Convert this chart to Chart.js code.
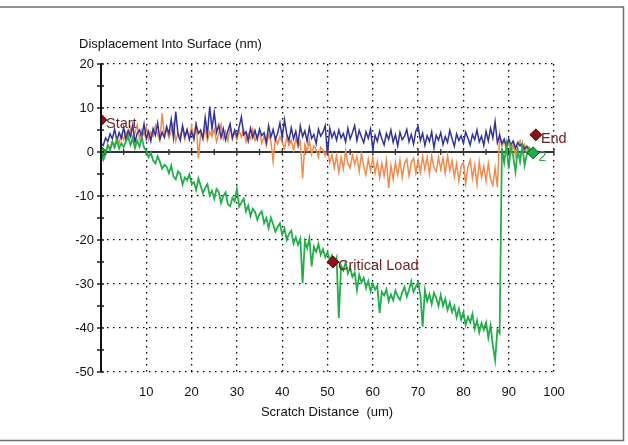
<!DOCTYPE html>
<html>
<head>
<meta charset="utf-8">
<script src="https://cdn.jsdelivr.net/npm/chart.js@4.4.1/dist/chart.umd.min.js"></script>
<style>
  html, body { margin: 0; padding: 0; background: #fff; }
  #chart { display: block; }
</style>
</head>
<body>
<canvas id="chart" width="628" height="445"></canvas>
<script>
// sample spacing of the scratch traces (um)
const STEP = 0.5;

// Displacement Into Surface (nm), one value every STEP um from 0 to 95
const blueTrace = [
  2.0, 1.5, 3.2, 2.4, 4.1, 3.0, 5.2, 2.6, 4.4, 3.1,
  5.6, 2.8, 4.9, 3.5, 6.1, 2.2, 4.3, 5.0, 3.4, 6.4,
  3.0, 4.7, 2.5, 5.3, 3.8, 6.6, 2.9, 4.5, 3.3, 5.8,
  4.1, 7.4, 3.2, 9.2, 4.0, 2.6, 6.0, 3.5, 5.1, 2.8,
  4.6, 3.0, 6.2, 4.2, 5.0, 3.1, 7.8, 4.0, 10.3, 5.2,
  9.0, 4.4, 6.1, 3.3, 5.3, 2.7, 4.8, 6.4, 3.1, 5.0,
  3.6, 5.7, 8.0, 3.9, 4.6, 2.5, 5.4, 3.3, 4.9, 2.9,
  5.2, 3.7, 4.4, 2.2, 6.0, 3.4, 5.1, 2.8, 4.3, 6.6,
  3.2, 7.3, 4.1, 2.6, 5.5, 3.0, 4.7, 1.8, 5.9, 3.5,
  4.8, 2.4, 5.6, 3.1, 4.0, 1.9, 5.2, 3.6, 4.5, 6.0,
  -0.7, 5.4, 3.3, 4.6, 2.7, 5.0, 3.2, 4.2, 2.3, 5.4,
  3.0, 4.4, 6.0, 2.6, 4.9, 3.4, 2.1, 4.6, 3.1, 5.2,
  0.5, 3.8, 2.4, 4.7, 3.0, 1.6, 4.2, 2.9, 5.0, 2.2,
  3.9, 1.4, 4.5, 2.8, 3.6, 5.1, 2.3, 4.0, 1.8, 4.8,
  5.8, 2.6, 4.3, 1.5, 3.7, 2.4, 4.6, 0.9, 3.8, 2.7,
  4.4, 1.7, 3.5, 2.2, 4.9, 3.0, 1.3, 4.1, 2.6, 3.7,
  2.0, 4.5, 3.1, 1.6, 4.0, 2.8, 5.0, 2.3, 3.6, 1.5,
  4.7, 2.5, 5.4, 3.2, 6.9, 2.1, 3.8, 1.9, 2.9, 1.2,
  3.0, 1.6, 2.5, 0.8, 2.2, 1.4, 1.9, 0.6, 1.3, 0.3, 0.0
];

const orangeTrace = [
  0.0, 0.5, -0.3, 1.6, 0.8, 2.4, 1.5, 3.2, 2.0, 4.0,
  2.8, 4.6, 3.3, 5.5, 2.6, 4.4, 6.2, 3.0, 5.0, 3.8,
  5.7, 2.9, 4.5, 3.6, 6.0, 4.1, 2.7, 8.8, 3.9, 5.1,
  3.2, 4.8, 6.4, 2.5, 4.3, 3.6, 5.5, 2.8, 4.9, 3.4,
  5.8, 2.9, 7.0, -1.4, 4.2, 3.1, 5.3, 2.6, 4.6, 3.5,
  5.1, 2.4, 4.2, 6.3, 3.0, 4.7, 2.5, 5.6, 3.3, 4.4,
  2.7, 4.9, 3.4, 5.0, 2.3, 4.1, 3.0, 5.2, 2.6, 3.8,
  4.5, 2.0, 3.6, 1.4, 3.9, 2.5, -2.2, 3.1, 1.8, 3.5,
  2.2, 0.8, 3.3, 1.5, 2.7, 0.4, 3.0, 1.2, 2.4, -6.0,
  1.7, 0.2, 2.6, -0.5, 1.4, 0.6, -1.2, 1.1, 0.5, -0.8,
  0.9, -2.4, -0.6, -3.6, -0.8, -4.6, -1.2, -3.8, 0.2, -2.6,
  -3.6, -0.6, -2.8, -1.0, -4.4, -0.4, -3.4, -5.2, -1.6, -4.2,
  -1.2, -4.8, -2.2, -5.8, -2.6, -5.4, -1.8, -8.2, -3.0, -6.2,
  -2.4, -5.2, -1.8, -5.8, -2.6, -1.6, -5.4, -2.4, -1.4, -4.8,
  -1.8, -4.6, -1.0, -4.0, -1.2, -5.0, -0.8, -3.6, -4.4, -1.2,
  -4.0, -1.4, -4.8, -0.8, -4.2, -2.0, -5.6, -2.6, -6.6, -3.2,
  -2.4, -7.2, -3.4, -1.8, -6.0, -3.0, -7.4, -2.2, -5.8, -3.2,
  -6.6, -2.6, -6.2, -7.6, -3.6, -8.0, 4.0, 1.2, 2.8, 0.5,
  2.2, 0.0, 1.8, -0.9, 1.5, 2.6, 0.3, 1.7, -0.5, 1.0, 0.4
];

const greenTrace = [
  0.0, -1.8, -0.5, 1.6, 0.4, 2.3, 1.0, 2.7, 0.8, 2.0,
  1.1, 2.4, 3.5, 1.6, 3.1, 0.9, 2.6, 1.2, 3.3, 1.0,
  0.3, -1.2, -0.2, -1.9, -2.6, -1.0, -2.2, -3.8, -2.9, -3.4,
  -4.8, -3.1, -5.6, -6.2, -4.4, -5.0, -7.4, -5.8, -6.4, -5.1,
  -7.2, -6.8, -8.6, -6.0, -7.7, -9.4, -8.1, -7.3, -9.9, -8.8,
  -10.6, -8.4, -9.1, -11.6, -10.0, -9.2, -11.9, -12.3, -10.4, -11.2,
  -8.4, -12.4, -11.5, -10.6, -13.5, -12.2, -14.6, -12.9, -13.6, -15.4,
  -14.1, -13.5, -16.2, -15.0, -17.3, -14.9, -16.4, -18.1, -17.0, -16.2,
  -18.8, -17.4, -19.9, -18.6, -17.9, -20.8, -19.4, -21.1, -19.7, -29.8,
  -20.3, -21.9, -19.6, -26.0, -21.5, -22.7, -20.9, -23.4, -22.1, -23.9,
  -22.8, -24.6, -23.5, -25.4, -24.0, -37.7, -25.8, -26.9, -25.1, -27.6,
  -26.3, -28.4, -27.4, -31.4, -27.9, -29.6, -28.6, -30.9, -29.3, -31.7,
  -29.9, -31.3, -30.4, -36.6, -31.8, -32.6, -31.2, -33.9, -32.4, -33.7,
  -31.5, -32.8, -33.6, -31.9, -30.7, -32.9, -31.3, -29.4, -31.8, -30.6,
  -29.7, -32.5, -39.7, -31.4, -33.9, -32.3, -34.6, -32.0, -33.2, -35.0,
  -32.5, -34.9, -33.4, -35.9, -34.2, -36.4, -35.0, -37.6, -35.6, -38.1,
  -36.4, -39.3, -37.5, -38.7, -36.8, -40.2, -38.3, -41.0, -38.9, -40.4,
  -38.7, -42.2, -39.4, -44.0, -47.3, -40.4, -41.2, 0.8, -2.4, 1.6,
  -3.8, 1.2, -1.0, -4.5, 0.6, -2.2, 1.4, -3.0, -0.5, 0.9, 0.0
];

// event markers (red diamonds) and segment markers (green diamonds)
const eventX = [0, 51.2, 96];
const eventY = [7.3, -25, 3.9];
const eventLabels = ['Start', 'Critical Load', 'End'];
const segX = [0, 95.4];
const segY = [0, -0.2];
const segLabels = ['', '2'];

// axis ticks
const xTicks = [10, 20, 30, 40, 50, 60, 70, 80, 90, 100];
const yTicks = [20, 10, 0, -10, -20, -30, -40, -50];

const FONT = 'Liberation Sans, Arial, sans-serif';

function toPoints(arr) {
  return arr.map((v, i) => ({ x: i * STEP, y: v }));
}
function pairs(xs, ys) {
  return xs.map((x, i) => ({ x: x, y: ys[i] }));
}

// axes decoration: solid y axis with minor ticks, zero line with ticks, frame, titles
const decorPlugin = {
  id: 'decor',
  beforeDatasetsDraw(chart) {
    const ctx = chart.ctx;
    const xs = chart.scales.x, ys = chart.scales.y;
    const y0 = ys.getPixelForValue(0);
    ctx.save();
    ctx.strokeStyle = '#333';
    ctx.lineWidth = 1.8;
    ctx.beginPath();
    ctx.moveTo(xs.getPixelForValue(0), y0);
    ctx.lineTo(xs.getPixelForValue(100), y0);
    ctx.stroke();
    ctx.lineWidth = 1.3;
    for (let v = 5; v <= 100; v += 5) {
      const px = xs.getPixelForValue(v);
      ctx.beginPath();
      ctx.moveTo(px, y0 - 3);
      ctx.lineTo(px, y0 + 3);
      ctx.stroke();
    }
    ctx.restore();
  },
  afterDraw(chart) {
    const ctx = chart.ctx;
    const xs = chart.scales.x, ys = chart.scales.y;
    const x0 = xs.getPixelForValue(0);
    ctx.save();
    ctx.strokeStyle = '#111';
    ctx.lineWidth = 2;
    ctx.beginPath();
    ctx.moveTo(x0, ys.getPixelForValue(20));
    ctx.lineTo(x0, ys.getPixelForValue(-50));
    ctx.stroke();
    ctx.lineWidth = 1.4;
    for (let v = -50; v <= 20; v += 5) {
      const py = ys.getPixelForValue(v);
      ctx.beginPath();
      ctx.moveTo(x0 - 4, py);
      ctx.lineTo(x0 + 3, py);
      ctx.stroke();
    }
    // titles
    ctx.fillStyle = '#111';
    ctx.font = '13px ' + FONT;
    ctx.textBaseline = 'middle';
    ctx.textAlign = 'left';
    ctx.fillText('Displacement Into Surface (nm)', 79, 44);
    ctx.textAlign = 'center';
    ctx.fillText('Scratch Distance  (um)', 327, 412);
    // picture frame
    ctx.strokeStyle = '#6e6e6e';
    ctx.lineWidth = 1.5;
    ctx.beginPath();
    ctx.moveTo(0, 7);
    ctx.lineTo(623.5, 7);
    ctx.lineTo(623.5, 440.5);
    ctx.lineTo(0, 440.5);
    ctx.stroke();
    ctx.restore();
  },
  afterDatasetsDraw(chart) {
    const ctx = chart.ctx;
    ctx.save();
    ctx.font = '14.5px ' + FONT;
    ctx.textAlign = 'left';
    ctx.textBaseline = 'middle';
    chart.data.datasets.forEach((ds, di) => {
      if (!ds.markLabels) return;
      const meta = chart.getDatasetMeta(di);
      meta.data.forEach((pt, i) => {
        const t = ds.markLabels[i];
        if (!t) return;
        ctx.fillStyle = ds.labelColor;
        ctx.fillText(t, pt.x + 5, pt.y + 4);
      });
    });
    ctx.restore();
  }
};

new Chart(document.getElementById('chart'), {
  type: 'scatter',
  data: {
    datasets: [
      {
        label: 'events',
        data: pairs(eventX, eventY),
        markLabels: eventLabels,
        labelColor: '#6e1f1f',
        pointStyle: 'rectRot',
        pointRadius: 6,
        backgroundColor: '#8a1414',
        borderColor: '#5a0c0c',
        borderWidth: 1,
        showLine: false
      },
      {
        label: 'segments',
        data: pairs(segX, segY),
        markLabels: segLabels,
        labelColor: '#2aa84a',
        pointStyle: 'rectRot',
        pointRadius: 6,
        backgroundColor: '#25a84a',
        borderColor: '#0f5a25',
        borderWidth: 1,
        showLine: false
      },
      {
        label: 'green',
        data: toPoints(greenTrace),
        showLine: true,
        borderColor: '#24ad4b',
        borderWidth: 1.8,
        pointRadius: 0,
        tension: 0
      },
      {
        label: 'blue',
        data: toPoints(blueTrace),
        showLine: true,
        borderColor: '#32339a',
        borderWidth: 1.5,
        pointRadius: 0,
        tension: 0
      },
      {
        label: 'orange',
        data: toPoints(orangeTrace),
        showLine: true,
        borderColor: '#f38a4d',
        borderWidth: 1.5,
        pointRadius: 0,
        tension: 0
      }
    ]
  },
  options: {
    responsive: false,
    animation: false,
    layout: { padding: { left: 0, top: 64, right: 74, bottom: 0 } },
    plugins: { legend: { display: false }, tooltip: { enabled: false } },
    scales: {
      x: {
        type: 'linear',
        min: 0,
        max: 100,
        afterBuildTicks: s => { s.ticks = xTicks.map(v => ({ value: v })).concat([{ value: 0 }]); },
        ticks: {
          color: '#111',
          font: { family: FONT, size: 13 },
          padding: 13,
          maxRotation: 0,
          autoSkip: false,
          callback: v => (v === 0 ? '' : v)
        },
        grid: { color: '#000', lineWidth: 1.3, drawTicks: false },
        border: { display: false, dash: [1.5, 4.5] },
        afterFit: s => { s.height = 73; }
      },
      y: {
        min: -50,
        max: 20,
        afterBuildTicks: s => { s.ticks = yTicks.slice().reverse().map(v => ({ value: v })); },
        ticks: {
          color: '#111',
          font: { family: FONT, size: 13 },
          padding: 7,
          autoSkip: false
        },
        grid: { color: '#000', lineWidth: 1.3, drawTicks: false },
        border: { display: false, dash: [1.5, 4.5] },
        afterFit: s => { s.width = 101; }
      }
    }
  },
  plugins: [decorPlugin]
});
</script>
</body>
</html>
